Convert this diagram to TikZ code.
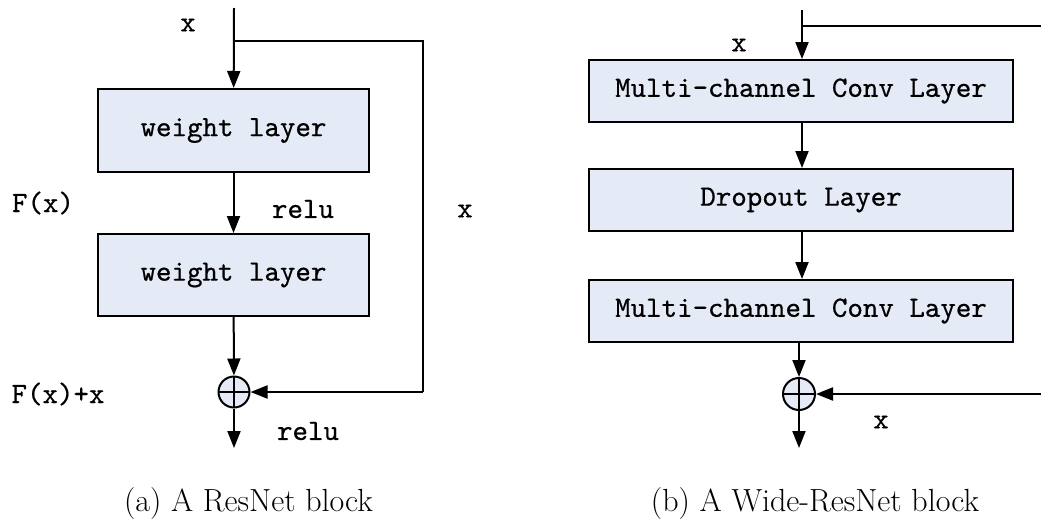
\documentclass[tikz,border=0pt]{standalone}
\usepackage{fontspec}
\usetikzlibrary{arrows.meta}
\newfontfamily\layerfont[FakeBold=0.6]{lmmono10-regular.otf}
\definecolor{layerfill}{RGB}{229,235,246}
\begin{document}
\begin{tikzpicture}[x=1pt,y=-1pt,
  wire/.style={line width=2pt, draw=black},
  flow/.style={wire, -{Triangle[length=17pt,width=13pt]}},
  layer/.style={draw=black, line width=2pt, fill=layerfill, inner sep=0pt,
    font=\layerfont\fontsize{29.5}{33}\selectfont},
  sumnode/.style={circle, draw=black, line width=2pt, fill=layerfill,
    minimum size=31pt, inner sep=0pt,
    path picture={\draw[line width=2pt]
      (path picture bounding box.north) -- (path picture bounding box.south)
      (path picture bounding box.west) -- (path picture bounding box.east);}},
  lbl/.style={font=\layerfont\fontsize{29.5}{33}\selectfont, inner sep=0pt},
  captext/.style={font=\fontsize{32}{36}\selectfont, inner sep=0pt}]
\useasboundingbox (0,0) rectangle (1041,525);

% ---------- (a) ResNet block ----------
\coordinate (ain) at (234,8);
\coordinate (asplit) at (234,41);
\coordinate (acorner) at (423,41);
\coordinate (aret) at (423,392);
\coordinate (aout) at (234,448);
\node[layer, minimum width=271pt, minimum height=83pt] (aw1) at (233.5,130.5) {weight layer};
\node[layer, minimum width=271pt, minimum height=82pt] (aw2) at (233.5,275) {weight layer};
\node[sumnode] (asum) at (234,392) {};

\draw[flow] (ain) -- (aw1);
\draw[flow] (aw1) -- (aw2);
\draw[flow] (aw2) -- (asum);
\draw[flow] (asum) -- (aout);
\draw[wire] (asplit) -- (acorner) -- (aret);
\draw[flow] (aret) -- (asum);

\node[lbl] (ax) at (188,25) {x};
\node[lbl] (afx) at (43,203) {F(x)};
\node[lbl] (arelu1) at (303,209) {relu};
\node[lbl] (askip) at (465,211) {x};
\node[lbl] (afxx) at (58,394) {F(x)+x};
\node[lbl] (arelu2) at (308,431) {relu};
\node[captext] (acap) at (248.5,504) {(a) A ResNet block};

% ---------- (b) Wide-ResNet block ----------
\coordinate (bin) at (802,10);
\coordinate (bsplit) at (802,26);
\coordinate (bedge) at (1041,26);
\coordinate (bret) at (1041,394);
\coordinate (bout) at (799,448);
\node[layer, minimum width=424pt, minimum height=62pt] (bc1) at (801,91) {Multi-channel Conv Layer};
\node[layer, minimum width=424pt, minimum height=62pt] (bd) at (801,200) {Dropout Layer};
\node[layer, minimum width=424pt, minimum height=62pt] (bc2) at (801,311) {Multi-channel Conv Layer};
\node[sumnode, minimum size=32pt] (bsum) at (799,394) {};

\draw[flow] (bin) -- (bc1.north -| bin);
\draw[wire] (bsplit) -- (bedge);
\draw[flow] (bc1.south -| bin) -- (bd.north -| bin);
\draw[flow] (bd.south -| bin) -- (bc2.north -| bin);
\draw[flow] (bc2.south -| bsum) -- (bsum);
\draw[flow] (bsum) -- (bout);
\draw[flow] (bret) -- (bsum);

\node[lbl] (bx) at (739,45) {x};
\node[lbl] (bskip) at (881,422) {x};
\node[captext] (bcap) at (815,504) {(b) A Wide-ResNet block};
\end{tikzpicture}
\end{document}
